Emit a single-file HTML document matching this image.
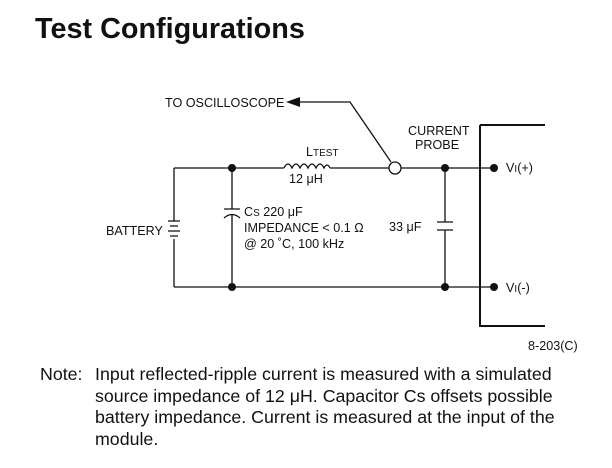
<!DOCTYPE html>
<html><head><style>
body{margin:0;width:612px;height:468px;background:#fff;font-family:"Liberation Sans",sans-serif;position:relative;overflow:hidden}
.t{position:absolute;color:#111}
</style></head><body>
<div class="t" style="left:35px;top:13px;font-size:28.8px;font-weight:bold">Test Configurations</div>
<svg width="612" height="468" style="position:absolute;left:0;top:0" font-family="Liberation Sans, sans-serif" font-size="12.6" fill="#111">
<g stroke="#111" stroke-width="1.3" fill="none">
<path d="M174 168H284M330 168H389M401 168H494M174 287H494"/>
<path d="M174 168V221M174 239V287"/>
<path d="M168 221H180M170 226H178M168 231H180M170 236H178"/>
<path d="M232 168V209M232 214V287M224 209H240M224 218Q232 211 240 218"/>
<path d="M284 168q4-8 8 0q4-8 8 0q4-8 8 0q4-8 8 0q4-8 8 0q3-6 6 0"/>
<circle cx="395" cy="168" r="6"/>
<path d="M391 162L350 102H298"/>
<path d="M445 168V222M445 230V287M437 222H453M437 230H453"/>
<path d="M480 125H545M480 125V326H545" stroke-width="2"/>
</g>
<path d="M286 102L300 97V107Z" fill="#111"/>
<g fill="#111"><circle cx="232" cy="168" r="4"/><circle cx="232" cy="287" r="4"/><circle cx="445" cy="168" r="4"/><circle cx="445" cy="287" r="4"/><circle cx="494" cy="168" r="4"/><circle cx="494" cy="287" r="4"/></g>
<text x="165" y="107">TO OSCILLOSCOPE</text>
<text x="408" y="135">CURRENT</text><text x="415" y="149">PROBE</text>
<text x="306" y="156">L<tspan font-size="10">TEST</tspan></text>
<text x="289" y="183">12 μH</text>
<text x="106" y="235">BATTERY</text>
<text x="244" y="216">C<tspan font-size="10">S</tspan> 220 μF</text>
<text x="244" y="232">IMPEDANCE &lt; 0.1 Ω</text>
<text x="244" y="248">@ 20 ˚C, 100 kHz</text>
<text x="389" y="231">33 μF</text>
<text x="506" y="172">V<tspan font-size="10">I</tspan>(+)</text>
<text x="506" y="292">V<tspan font-size="10">I</tspan>(-)</text>
<text x="528" y="350">8-203(C)</text>
</svg>
<div class="t" style="left:40px;top:364px;font-size:17.8px;line-height:21.5px">Note:</div>
<div class="t" style="left:95px;top:364px;font-size:17.8px;line-height:21.5px;width:515px;white-space:nowrap">Input reflected-ripple current is measured with a simulated<br>source impedance of 12 μH. Capacitor Cs offsets possible<br>battery impedance. Current is measured at the input of the<br>module.</div>
</body></html>
